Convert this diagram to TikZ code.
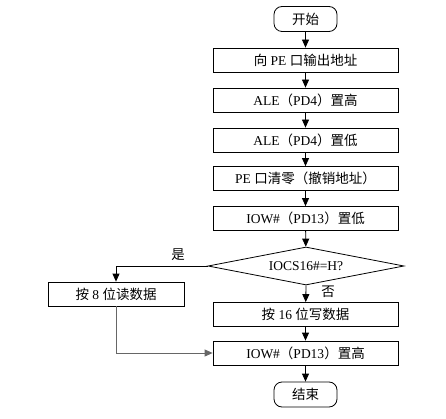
\documentclass[tikz,border=0pt]{standalone}
\usepackage{fontspec}
\setmainfont{Liberation Serif}
\newfontfamily\cjk{Noto Sans CJK SC}
\newcommand{\zh}[1]{{\cjk #1}}
\usetikzlibrary{shapes.geometric,arrows.meta}
\begin{document}
\begin{tikzpicture}[x=1pt,y=-1pt,
  font=\fontsize{13.5}{15}\selectfont,
  procbox/.style={draw,line width=0.8pt,minimum width=185pt,minimum height=24pt,inner sep=0pt},
  termbox/.style={draw,line width=0.8pt,rounded corners=8pt,minimum width=63pt,minimum height=25pt,inner sep=0pt},
  decbox/.style={draw,line width=0.8pt,shape=diamond,aspect=5.2,minimum width=196pt,minimum height=38pt,inner sep=0pt},
  flow/.style={line width=0.8pt,-{Triangle[length=8pt,width=7pt]}},
  lbl/.style={inner sep=0pt}]
\useasboundingbox (0,0) rectangle (446,419);
\node[termbox] (start) at (305.5,19) {\zh{开始}};
\node[procbox] (b1) at (305.5,60) {\zh{向} PE \zh{口输出地址}};
\node[procbox] (b2) at (305.5,100) {ALE\zh{（}PD4\zh{）置高}};
\node[procbox] (b3) at (305.5,140) {ALE\zh{（}PD4\zh{）置低}};
\node[procbox] (b4) at (305.5,178.5) {PE \zh{口清零（撤销地址）}};
\node[procbox] (b5) at (305.5,218.5) {IOW\#\zh{（}PD13\zh{）置低}};
\node[decbox] (dia) at (306,266) {IOCS16\#=H?};
\node[procbox,minimum width=136pt] (left) at (116,294) {\zh{按} 8 \zh{位读数据}};
\node[procbox] (b6) at (305.5,314.5) {\zh{按} 16 \zh{位写数据}};
\node[procbox] (b7) at (305.5,353) {IOW\#\zh{（}PD13\zh{）置高}};
\node[termbox] (end) at (305.5,394.5) {\zh{结束}};
\draw[flow] (start) -- (b1);
\draw[flow] (b1) -- (b2);
\draw[flow] (b2) -- (b3);
\draw[flow] (b3) -- (b4);
\draw[flow] (b4) -- (b5);
\draw[flow] (b5) -- (dia);
\draw[flow] (dia.south) -- (b6);
\draw[flow] (dia.west) -| (left.north);
\draw[flow,black!60] (left.south) |- (b7.west);
\draw[flow] (b6) -- (b7);
\draw[flow] (b7) -- (end);
\node[lbl] (yes) at (178,255) {\zh{是}};
\node[lbl] (no) at (328,292) {\zh{否}};
\end{tikzpicture}
\end{document}
